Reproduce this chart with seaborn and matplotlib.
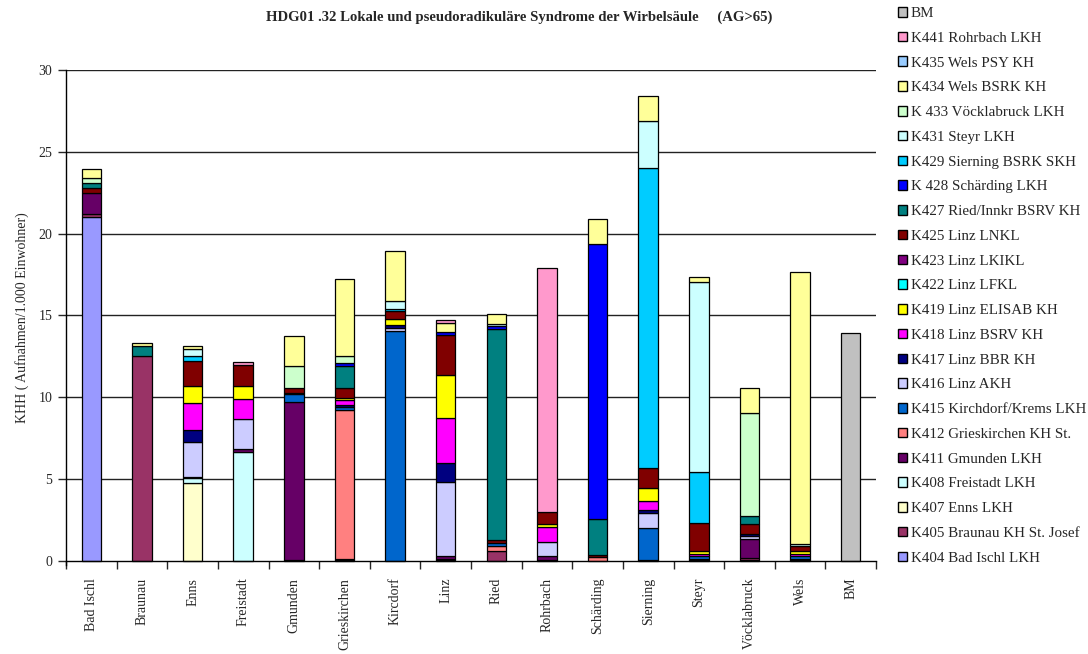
import matplotlib
matplotlib.use("Agg")
import matplotlib.pyplot as plt
from matplotlib.patches import Patch
import numpy as np
import seaborn as sns

sns.set_style("white")
plt.rcParams["font.family"] = ["Liberation Serif", "DejaVu Serif"]

regions = ["Bad Ischl", "Braunau", "Enns", "Freistadt", "Gmunden", "Grieskirchen",
           "Kircdorf", "Linz", "Ried", "Rohrbach", "Schärding", "Sierning",
           "Steyr", "Vöcklabruck", "Wels", "BM"]

# Admissions per 1,000 inhabitants, one list per hospital, in the order of `regions`
k404 = [21.0, 0, 0, 0, 0.05, 0.05, 0, 0.05, 0, 0, 0, 0.05, 0.05, 0.05, 0.05, 0]
k405 = [0.2, 12.55, 0, 0, 0, 0, 0, 0, 0.63, 0, 0, 0, 0, 0.15, 0, 0]
k407 = [0, 0, 4.75, 0, 0, 0, 0, 0, 0, 0, 0, 0, 0, 0, 0, 0]
k408 = [0, 0, 0.3, 6.68, 0, 0, 0, 0.1, 0, 0.05, 0, 0, 0, 0, 0, 0]
k411 = [1.3, 0, 0, 0.15, 9.65, 0.08, 0, 0.16, 0, 0.25, 0, 0, 0.1, 1.16, 0.1, 0]
k412 = [0, 0, 0, 0, 0, 9.1, 0, 0, 0.31, 0, 0.23, 0, 0, 0, 0, 0]
k415 = [0, 0, 0.1, 0, 0.49, 0.16, 14.07, 0, 0.14, 0, 0, 1.95, 0.15, 0, 0.15, 0]
k416 = [0, 0, 2.1, 1.83, 0, 0, 0.14, 4.5, 0, 0.86, 0, 0.92, 0, 0.16, 0, 0]
k417 = [0, 0, 0.76, 0, 0, 0.14, 0.2, 1.16, 0, 0, 0, 0.18, 0, 0.14, 0, 0]
k418 = [0, 0, 1.65, 1.22, 0, 0.33, 0, 2.75, 0, 0.92, 0, 0.55, 0.12, 0, 0.1, 0]
k419 = [0, 0, 1.02, 0.83, 0, 0.1, 0.39, 2.66, 0, 0.16, 0, 0.79, 0.2, 0, 0.2, 0]
k422 = [0, 0, 0, 0, 0.07, 0, 0, 0, 0, 0, 0, 0, 0, 0, 0, 0]
k423 = [0, 0, 0, 0, 0, 0, 0, 0, 0, 0, 0, 0, 0, 0, 0, 0]
k425 = [0.3, 0, 1.55, 1.25, 0.28, 0.59, 0.45, 2.44, 0.18, 0.76, 0.14, 1.22, 1.67, 0.61, 0.33, 0]
k427 = [0.3, 0.6, 0, 0, 0, 1.34, 0, 0, 12.93, 0, 2.22, 0, 0, 0.49, 0, 0]
k428 = [0, 0, 0, 0, 0, 0.2, 0, 0.14, 0.18, 0, 16.76, 0, 0, 0, 0, 0]
k429 = [0, 0, 0.3, 0, 0, 0, 0.16, 0, 0, 0, 0, 18.34, 3.15, 0, 0, 0]
k431 = [0, 0, 0.43, 0, 0, 0, 0.45, 0, 0.12, 0, 0, 2.87, 11.63, 0, 0.12, 0]
k433 = [0.3, 0, 0, 0, 1.37, 0.43, 0, 0, 0, 0, 0, 0, 0, 6.3, 0, 0]
k434 = [0.55, 0.15, 0.18, 0, 1.85, 4.68, 3.07, 0.61, 0.61, 0, 1.53, 1.55, 0.3, 1.53, 16.6, 0]
k435 = [0, 0, 0, 0, 0, 0, 0, 0, 0, 0, 0, 0, 0, 0, 0, 0]
k441 = [0, 0, 0, 0.18, 0, 0, 0, 0.16, 0, 14.92, 0, 0, 0, 0, 0, 0]
bm = [0, 0, 0, 0, 0, 0, 0, 0, 0, 0, 0, 0, 0, 0, 0, 13.9]

hospitals = ["K404 Bad Ischl LKH", "K405 Braunau KH St. Josef", "K407 Enns LKH",
             "K408 Freistadt LKH", "K411 Gmunden LKH", "K412 Grieskirchen KH St.",
             "K415 Kirchdorf/Krems LKH", "K416 Linz AKH", "K417 Linz BBR KH",
             "K418 Linz BSRV KH", "K419 Linz ELISAB KH", "K422 Linz LFKL",
             "K423 Linz LKIKL", "K425 Linz LNKL", "K427 Ried/Innkr BSRV KH",
             "K 428 Schärding LKH", "K429 Sierning BSRK SKH", "K431 Steyr LKH",
             "K 433 Vöcklabruck LKH", "K434 Wels BSRK KH", "K435 Wels PSY KH",
             "K441 Rohrbach LKH", "BM"]
series = [k404, k405, k407, k408, k411, k412, k415, k416, k417, k418, k419, k422,
          k423, k425, k427, k428, k429, k431, k433, k434, k435, k441, bm]
colors = ["#9999FF", "#993366", "#FFFFCC", "#CCFFFF", "#660066", "#FF8080",
          "#0066CC", "#CCCCFF", "#000080", "#FF00FF", "#FFFF00", "#00FFFF",
          "#800080", "#800000", "#008080", "#0000FF", "#00CCFF", "#CCFFFF",
          "#CCFFCC", "#FFFF99", "#99CCFF", "#FF99CC", "#C0C0C0"]

fig = plt.figure(figsize=(10.88, 6.54), dpi=100)
ax = fig.add_axes([66 / 1088, 0.136, 810 / 1088, 0.757])

# Gridlines under the bars
for g in [5, 10, 15, 20, 25, 30]:
    ax.axhline(g, color="#222222", lw=1.0, zorder=0)

bottom = np.zeros(len(regions))
for name, vals, col in zip(hospitals, series, colors):
    vals = np.asarray(vals, dtype=float)
    mask = vals > 0
    if mask.any():
        sns.barplot(x=[r for r, m in zip(regions, mask) if m], y=vals[mask],
                    order=regions, bottom=bottom[mask], color=col,
                    width=0.385, edgecolor="black", linewidth=0.9,
                    saturation=1, ax=ax, zorder=2)
    bottom += vals

ax.set_ylim(-0.25, 30)
ax.set_xlim(-0.5, len(regions) - 0.5)
ax.set_yticks([0, 5, 10, 15, 20, 25, 30])
ax.tick_params(axis="y", direction="out", length=6, width=1, labelsize=10, pad=4, left=True)

ax.spines["top"].set_visible(False)
ax.spines["right"].set_visible(False)
ax.spines["bottom"].set_position(("data", 0))
for s in ["left", "bottom"]:
    ax.spines[s].set_color("black")
    ax.spines[s].set_linewidth(1)

# Category labels centred under each bar, tick marks between categories
ax.set_xticks(np.arange(len(regions)))
ax.set_xticklabels(regions, rotation=90, fontsize=10)
ax.tick_params(axis="x", which="major", length=0, pad=12)
ax.set_xticks(np.arange(len(regions) + 1) - 0.5, minor=True)
ax.tick_params(axis="x", which="minor", direction="out", length=6, width=1, bottom=True)
ax.set_xlabel("")
ax.set_ylabel("KHH ( Aufnahmen/1.000 Einwohner)", fontsize=10, labelpad=7)

fig.text(519 / 1088, 1 - 17 / 654,
         "HDG01 .32 Lokale und pseudoradikuläre Syndrome der Wirbelsäule     (AG>65)",
         ha="center", va="center", fontsize=10.6, fontweight="bold")

handles = [Patch(facecolor=c, edgecolor="black", linewidth=1) for c in colors]
fig.legend(handles[::-1], hospitals[::-1], loc="upper left",
           bbox_to_anchor=(898 / 1088, 1 - 7 / 654), frameon=False, fontsize=10.8,
           labelspacing=0.78, handlelength=0.6, handleheight=0.6,
           handletextpad=0.25, borderaxespad=0, borderpad=0)

fig.savefig("out.png", dpi=100)
